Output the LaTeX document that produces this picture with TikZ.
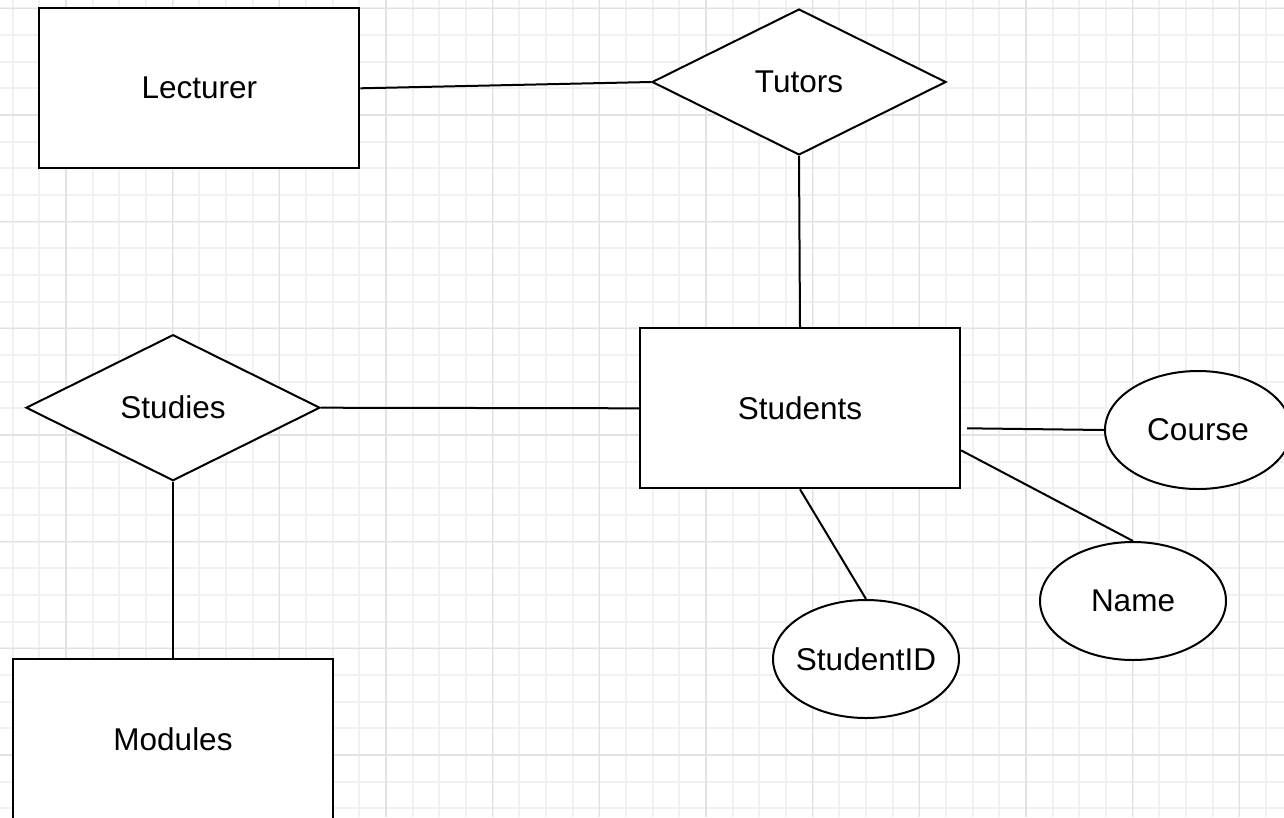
\documentclass[tikz,border=0pt]{standalone}
\usepackage{fontspec}
\setmainfont{Liberation Sans}
\usetikzlibrary{shapes.geometric}
\definecolor{gridminor}{HTML}{F1F1F1}
\definecolor{gridmajor}{HTML}{E2E2E2}
% label text that does not widen its shape
\newcommand{\erlabel}[1]{\makebox[0pt]{\raisebox{-1.5pt}{#1}}}
\begin{document}
\begin{tikzpicture}[x=1pt,y=-1pt,
  entity/.style={draw,line width=2pt,fill=white,rectangle,minimum width=320pt,minimum height=160pt,inner sep=0pt},
  relation/.style={draw,line width=2pt,fill=white,diamond,minimum width=294pt,minimum height=146pt,inner sep=0pt},
  attribute/.style={draw,line width=2pt,fill=white,ellipse,minimum width=186pt,minimum height=118pt,inner sep=0pt},
  link/.style={line width=2pt},
  every node/.style={font=\fontsize{31.5}{38}\selectfont}]
\useasboundingbox (0,0) rectangle (1284,817);
\clip (0,0) rectangle (1284,817);
\fill[white] (0,0) rectangle (1284,817);
% background grid: minor lines, then every fourth line darker
\foreach \k in {0,...,48} {
  \draw[gridminor,line width=2pt] ({12.667+26.667*\k},0) -- ({12.667+26.667*\k},817);
}
\foreach \k in {0,...,30} {
  \draw[gridminor,line width=2pt] (0,{8.333+26.667*\k}) -- (1284,{8.333+26.667*\k});
}
\foreach \k in {0,...,11} {
  \draw[gridmajor,line width=1.6pt] ({66+106.667*\k},0) -- ({66+106.667*\k},817);
}
\foreach \k in {0,...,7} {
  \draw[gridmajor,line width=1.6pt] (0,{8.333+106.667*\k}) -- (1284,{8.333+106.667*\k});
}
% entities
\node[entity] (lecturer) at (199.3,88.3) {\erlabel{Lecturer}};
\node[entity] (students) at (800,408.3) {\erlabel{Students}};
\node[entity] (modules) at (173,739.3) {\erlabel{Modules}};
% relationships
\node[relation] (tutors) at (799,82) {\erlabel{Tutors}};
\node[relation] (studies) at (173,407.7) {\erlabel{Studies}};
% attributes
\node[attribute] (course) at (1198,430) {\erlabel{Course}};
\node[attribute] (name) at (1133,601) {\erlabel{Name}};
\node[attribute] (studentid) at (866,659) {\erlabel{StudentID}};
% connectors
\draw[link] (lecturer.east) -- (tutors.west);
\draw[link] (tutors.south) -- (students.north);
\draw[link] (studies.east) -- (students.west);
\draw[link] (studies.south) -- (modules.north);
\draw[link] ([xshift=6pt,yshift=-20pt]students.east) -- (course.west);
\draw[link] ([yshift=-42pt]students.east) -- (name.north);
\draw[link] (students.south) -- (studentid.north);
\end{tikzpicture}
\end{document}
